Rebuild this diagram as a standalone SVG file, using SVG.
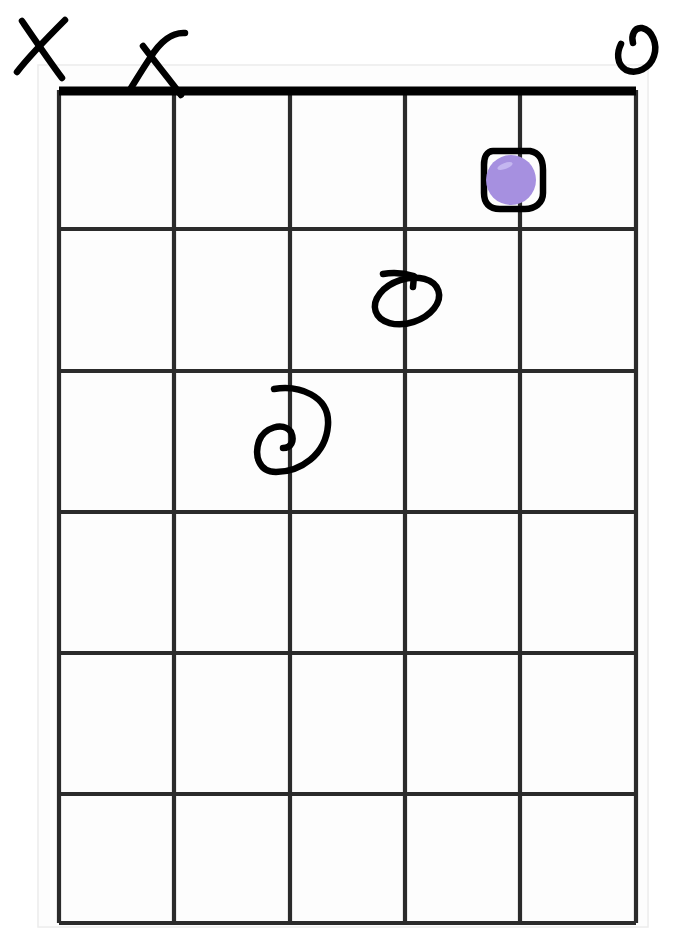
<svg xmlns="http://www.w3.org/2000/svg" width="673" height="930" viewBox="0 0 673 930">
<style>
.g{stroke:#2b2b2b;stroke-width:4.2;fill:none}
.ink{stroke:#000;stroke-width:6.5;fill:none;stroke-linecap:round;stroke-linejoin:round}
</style>
<rect width="673" height="930" fill="#fff"/>
<rect x="38" y="65" width="610" height="862" fill="#fdfdfd" stroke="#ececec" stroke-width="1.5"/>
<g id="grid">
<line class="g" x1="59" y1="90" x2="59" y2="923"/>
<line class="g" x1="174" y1="90" x2="174" y2="923"/>
<line class="g" x1="290" y1="90" x2="290" y2="923"/>
<line class="g" x1="405" y1="90" x2="405" y2="923"/>
<line class="g" x1="520" y1="90" x2="520" y2="923"/>
<line class="g" x1="636" y1="90" x2="636" y2="923"/>
<line class="g" x1="59" y1="229" x2="636" y2="229"/>
<line class="g" x1="59" y1="371" x2="636" y2="371"/>
<line class="g" x1="59" y1="512" x2="636" y2="512"/>
<line class="g" x1="59" y1="653" x2="636" y2="653"/>
<line class="g" x1="59" y1="794" x2="636" y2="794"/>
<line class="g" x1="59" y1="923" x2="636" y2="923"/>
<line x1="59" y1="91" x2="636" y2="91" stroke="#000" stroke-width="9"/>
</g>
<g id="mute1">
<path class="ink" d="M65,20 C50,35 30,55 17,72"/>
<path class="ink" d="M22,21 C35,40 50,62 62,78"/>
</g>
<g id="mute2">
<path class="ink" d="M185,33 C170,32 158,45 150,58 C142,70 136,80 131,88"/>
<path class="ink" d="M143,46 C155,62 170,80 181,95"/>
</g>
<g id="open6">
<path class="ink" d="M621,44 C617,52 616,64 626,70 C637,75 650,68 654,56 C658,44 652,30 642,28 C634,27 631,36 633,43"/>
</g>
<g id="dot-str5-fret1">
<path class="ink" d="M493,151 L530,151 C540,153 543,160 543,170 L543,193 C543,203 535,209 525,209 L500,209 C489,209 484,203 484,193 L484,165 C484,157 487,151 493,151 Z"/>
<circle cx="511" cy="180" r="25" fill="#a690e0"/>
<ellipse cx="505" cy="166" rx="8" ry="3" fill="#c4b6f0" transform="rotate(-20 505 166)"/>
</g>
<g id="finger-str4-fret2">
<ellipse class="ink" cx="407" cy="301" rx="33" ry="22" transform="rotate(-18 407 301)"/>
<path class="ink" d="M383,274 C393,272 404,273 414,276 L413,287"/>
</g>
<g id="finger-str3-fret3">
<path class="ink" d="M274,389 C298,385 330,395 328,425 C326,455 300,472 276,472 C259,472 254,456 259,441 C264,428 283,421 291,432 C295,441 291,448 283,448"/>
</g>
</svg>
